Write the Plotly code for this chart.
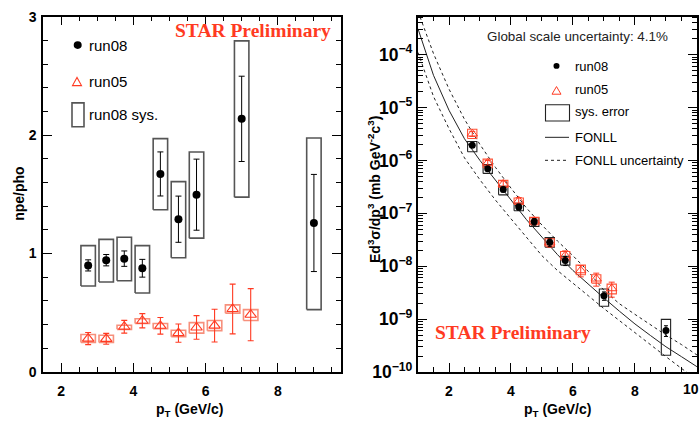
import plotly.graph_objects as go

W, H = 700, 428

# ---------------- left panel: npe/pho ratio ----------------
pt08 = [2.75, 3.25, 3.75, 4.25, 4.75, 5.25, 5.75, 7.0, 9.0]
ratio08 = [0.90, 0.944, 0.957, 0.876, 1.672, 1.29, 1.497, 2.137, 1.258]
ratio08_err = [0.047, 0.048, 0.065, 0.075, 0.186, 0.195, 0.30, 0.36, 0.41]
ratio08_sys_lo = [0.726, 0.76, 0.77, 0.667, 1.37, 0.965, 1.13, 1.476, 0.527]
ratio08_sys_hi = [1.067, 1.12, 1.137, 1.067, 1.97, 1.607, 1.857, 2.795, 1.976]

pt05 = [2.75, 3.25, 3.75, 4.25, 4.75, 5.25, 5.75, 6.25, 6.75, 7.25]
ratio05 = [0.282, 0.28, 0.382, 0.433, 0.39, 0.328, 0.376, 0.392, 0.532, 0.484]
ratio05_err = [0.051, 0.046, 0.054, 0.06, 0.07, 0.077, 0.10, 0.138, 0.21, 0.22]
ratio05_sys_lo = [0.25, 0.25, 0.36, 0.41, 0.365, 0.298, 0.328, 0.349, 0.497, 0.435]
ratio05_sys_hi = [0.317, 0.31, 0.395, 0.45, 0.409, 0.352, 0.417, 0.435, 0.567, 0.527]

# ---------------- right panel: invariant cross section ----------------
xs08 = [1.94e-6, 7.0e-7, 2.84e-7, 1.32e-7, 6.97e-8, 2.83e-8, 1.28e-8, 2.77e-9, 6.1e-10]
xs08_err = [0.15e-6, 0.6e-7, 0.3e-7, 0.17e-7, 1.0e-8, 0.45e-8, 0.25e-8, 0.5e-9, 1.4e-10]
xs08_sys_lo = [1.46e-6, 5.7e-7, 2.24e-7, 1.12e-7, 5.66e-8, 2.29e-8, 1.05e-8, 1.75e-9, 2.07e-10]
xs08_sys_hi = [2.29e-6, 8.4e-7, 3.26e-7, 1.55e-7, 8.24e-8, 3.48e-8, 1.55e-8, 3.72e-9, 9.9e-10]

xs05 = [3.2e-6, 9.0e-7, 3.6e-7, 1.73e-7, 7.2e-8, 2.8e-8, 1.6e-8, 8.3e-9, 5.8e-9, 3.8e-9]
xs05_err = [0.35e-6, 1.0e-7, 0.5e-7, 0.25e-7, 1.1e-8, 0.5e-8, 0.35e-8, 2.0e-9, 1.6e-9, 1.2e-9]
xs05_sys_lo = [2.6e-6, 7.3e-7, 3.1e-7, 1.48e-7, 6.1e-8, 2.4e-8, 1.32e-8, 6.9e-9, 4.8e-9, 3.0e-9]
xs05_sys_hi = [3.9e-6, 1.06e-6, 4.2e-7, 1.95e-7, 8.4e-8, 3.3e-8, 1.9e-8, 1.05e-8, 6.9e-9, 4.6e-9]

fonll_pt = [1.0, 1.5, 2.0, 2.5, 3.0, 3.5, 4.0, 4.5, 5.0, 5.5, 6.0, 6.5, 7.0, 7.5, 8.0, 8.5, 9.0, 9.5, 10.0]
fonll_central = [3.09e-4, 4.07e-5, 8.9e-6, 2.57e-6, 1.0e-6, 4.17e-7, 1.78e-7, 7.6e-8, 3.55e-8, 1.66e-8,
                 8.3e-9, 4.47e-9, 2.51e-9, 1.41e-9, 8.1e-10, 4.9e-10, 3.0e-10, 1.95e-10, 1.26e-10]
fonll_upper = [6.6e-4, 1.05e-4, 2.24e-5, 6.0e-6, 2.0e-6, 7.4e-7, 3.0e-7, 1.26e-7, 6.0e-8, 3.0e-8,
               1.58e-8, 7.9e-9, 3.5e-9, 1.95e-9, 1.23e-9, 7.8e-10, 5.0e-10, 3.3e-10, 2.1e-10]
fonll_lower = [1.1e-4, 1.62e-5, 4.0e-6, 1.12e-6, 4.3e-7, 1.78e-7, 7.9e-8, 3.55e-8, 1.58e-8, 8.3e-9,
               4.7e-9, 2.75e-9, 1.58e-9, 9.3e-10, 5.5e-10, 3.3e-10, 1.95e-10, 1.17e-10, 7.1e-11]

RED = "#ff3a22"
RED_BOX_L = "#f7907c"
RED_BOX_R = "#ff5236"
GRAY_BOX = "#555555"
LABEL_FONT = dict(family="Liberation Sans", size=14, color="black", weight="bold")


def fx(px):
    return px / W


def fy(py):
    return 1 - py / H


def boxes(xs, lo, hi, half):
    bx, by = [], []
    for x, l, h in zip(xs, lo, hi):
        bx += [x - half, x + half, x + half, x - half, x - half, None]
        by += [l, l, h, h, l, None]
    return bx, by


fig = go.Figure()

# left panel systematic boxes
bx, by = boxes(pt08, ratio08_sys_lo, ratio08_sys_hi, 0.2)
fig.add_trace(go.Scatter(x=bx, y=by, mode="lines", line=dict(color=GRAY_BOX, width=1.6),
                         xaxis="x", yaxis="y", hoverinfo="skip"))
bx, by = boxes(pt05, ratio05_sys_lo, ratio05_sys_hi, 0.2)
fig.add_trace(go.Scatter(x=bx, y=by, mode="lines", line=dict(color=RED_BOX_L, width=1.6),
                         xaxis="x", yaxis="y", hoverinfo="skip"))

fig.add_trace(go.Scatter(
    x=pt05, y=ratio05, mode="markers", xaxis="x", yaxis="y", name="run05",
    marker=dict(symbol="triangle-up-open", size=10, color=RED, line=dict(width=1.1, color=RED)),
    error_y=dict(type="data", array=ratio05_err, color=RED, thickness=1.1, width=3)))
fig.add_trace(go.Scatter(
    x=pt08, y=ratio08, mode="markers", xaxis="x", yaxis="y", name="run08",
    marker=dict(symbol="circle", size=8, color="black"),
    error_y=dict(type="data", array=ratio08_err, color="black", thickness=1, width=3)))

# right panel: FONLL band and central curve
for vals, dash in [(fonll_upper, "3px,3px"), (fonll_lower, "3px,3px"), (fonll_central, "solid")]:
    fig.add_trace(go.Scatter(x=fonll_pt, y=vals, mode="lines", xaxis="x2", yaxis="y2",
                             line=dict(color="#222222", width=1, dash=dash), hoverinfo="skip"))

bx, by = boxes(pt08, xs08_sys_lo, xs08_sys_hi, 0.15)
fig.add_trace(go.Scatter(x=bx, y=by, mode="lines", line=dict(color="#222222", width=1.1),
                         xaxis="x2", yaxis="y2", hoverinfo="skip"))
bx, by = boxes(pt05, xs05_sys_lo, xs05_sys_hi, 0.15)
fig.add_trace(go.Scatter(x=bx, y=by, mode="lines", line=dict(color=RED_BOX_R, width=1.1),
                         xaxis="x2", yaxis="y2", hoverinfo="skip"))

fig.add_trace(go.Scatter(
    x=pt05, y=xs05, mode="markers", xaxis="x2", yaxis="y2",
    marker=dict(symbol="triangle-up-open", size=9, color=RED, line=dict(width=1, color=RED)),
    error_y=dict(type="data", array=xs05_err, color=RED, thickness=1, width=3)))
fig.add_trace(go.Scatter(
    x=pt08, y=xs08, mode="markers", xaxis="x2", yaxis="y2",
    marker=dict(symbol="circle", size=7, color="black"),
    error_y=dict(type="data", array=xs08_err, color="black", thickness=1, width=2)))

axis_common = dict(showline=True, linecolor="black", linewidth=1.5, mirror="ticks",
                   ticks="inside", ticklen=9, tickwidth=1.2, tickcolor="black",
                   showgrid=False, zeroline=False, tickfont=LABEL_FONT)

yb, yt = fy(380), fy(9)
fig.update_layout(
    width=W, height=H, margin=dict(l=0, r=0, t=0, b=0),
    paper_bgcolor="white", plot_bgcolor="white", showlegend=False,
    xaxis=dict(domain=[fx(43), fx(341)], range=[1.5, 9.75], anchor="y", dtick=2, tick0=0,
               minor=dict(ticks="inside", ticklen=5, dtick=0.5, tick0=0, tickcolor="black"),
               ticklabelstandoff=5, **axis_common),
    yaxis=dict(domain=[yb, yt], range=[0, 3], anchor="x", dtick=1,
               minor=dict(ticks="inside", ticklen=5, dtick=0.2, tick0=0, tickcolor="black"),
               ticklabelstandoff=2, **axis_common),
    xaxis2=dict(domain=[fx(418), fx(697)], range=[1, 10.001], anchor="y2", dtick=2, tick0=0,
                minor=dict(ticks="inside", ticklen=5, dtick=0.5, tick0=0, tickcolor="black"),
                ticklabelstandoff=5, **axis_common),
    yaxis2=dict(domain=[yb, yt], type="log", range=[-10, -3.28], anchor="x2", dtick=1,
                exponentformat="power",
                minor=dict(ticks="inside", ticklen=5, dtick="D1", tickcolor="black"),
                ticklabelstandoff=1, **axis_common),
)

anns = []
shapes = []


def text(px, py, s, size=13, xanchor="left", color="black", family="Liberation Sans",
         weight="normal", angle=0):
    anns.append(dict(x=fx(px), y=fy(py), xref="paper", yref="paper", text=s, showarrow=False,
                     xanchor=xanchor, yanchor="middle", textangle=angle,
                     font=dict(family=family, size=size, color=color, weight=weight)))


# last pT label, kept just inside the page border
anns.append(dict(x=1.0, y=fy(398), xref="paper", yref="paper", text="10", showarrow=False,
                 xanchor="right", yanchor="middle", font=LABEL_FONT, borderpad=0))

# headers
text(253, 24, "STAR Preliminary", size=19.5, xanchor="center", color=RED,
     family="Liberation Serif", weight="bold")
text(513, 339, "STAR Preliminary", size=19.5, xanchor="center", color=RED,
     family="Liberation Serif", weight="bold")
text(577, 30, "Global scale uncertainty: 4.1%", size=13.4, xanchor="center", color="#222222")

# axis titles
text(190, 420, "p<sub>T</sub> (GeV/c)", size=14, xanchor="center", weight="bold")
text(557, 420, "p<sub>T</sub> (GeV/c)", size=14, xanchor="center", weight="bold")
text(19, 194, "npe/pho", size=14, xanchor="center", weight="bold", angle=-90)
text(374, 190, "Ed<sup>3</sup>σ/dp<sup>3</sup> (mb GeV<sup>-2</sup>c<sup>3</sup>)", size=14,
     xanchor="center", weight="bold", angle=-90)

# left key
text(87, 39, "run08", size=15)
text(87, 77, "run05", size=15)
text(87, 111, "run08 sys.", size=15)
shapes.append(dict(type="circle", xref="paper", yref="paper", x0=fx(73.7), x1=fx(81.7),
                   y0=fy(42.7), y1=fy(34.7), fillcolor="black", line=dict(width=0)))
shapes.append(dict(type="path", xref="paper", yref="paper",
                   path=f"M {fx(72.5)} {fy(81)} L {fx(81.5)} {fy(81)} L {fx(77)} {fy(72.5)} Z",
                   line=dict(color=RED, width=1.1)))
shapes.append(dict(type="rect", xref="paper", yref="paper", x0=fx(72), x1=fx(84),
                   y0=fy(124), y1=fy(99), line=dict(color=GRAY_BOX, width=1.6)))

# right key
text(573, 61, "run08")
text(573, 85, "run05")
text(573, 108, "sys. error")
text(573, 135, "FONLL")
text(573, 159, "FONLL uncertainty")
shapes.append(dict(type="circle", xref="paper", yref="paper", x0=fx(553.5), x1=fx(559.5),
                   y0=fy(63.5), y1=fy(57.5), fillcolor="black", line=dict(width=0)))
shapes.append(dict(type="path", xref="paper", yref="paper",
                   path=f"M {fx(552)} {fy(90)} L {fx(561)} {fy(90)} L {fx(556.5)} {fy(82)} Z",
                   line=dict(color=RED, width=1)))
shapes.append(dict(type="rect", xref="paper", yref="paper", x0=fx(545.5), x1=fx(569.5),
                   y0=fy(118), y1=fy(101), line=dict(color="#222222", width=1.1)))
shapes.append(dict(type="line", xref="paper", yref="paper", x0=fx(545), x1=fx(569),
                   y0=fy(135), y1=fy(135), line=dict(color="#222222", width=1)))
shapes.append(dict(type="line", xref="paper", yref="paper", x0=fx(545), x1=fx(569),
                   y0=fy(159), y1=fy(159), line=dict(color="#222222", width=1, dash="3px,3px")))

fig.update_layout(annotations=anns, shapes=shapes)
fig.write_html("out.html")
